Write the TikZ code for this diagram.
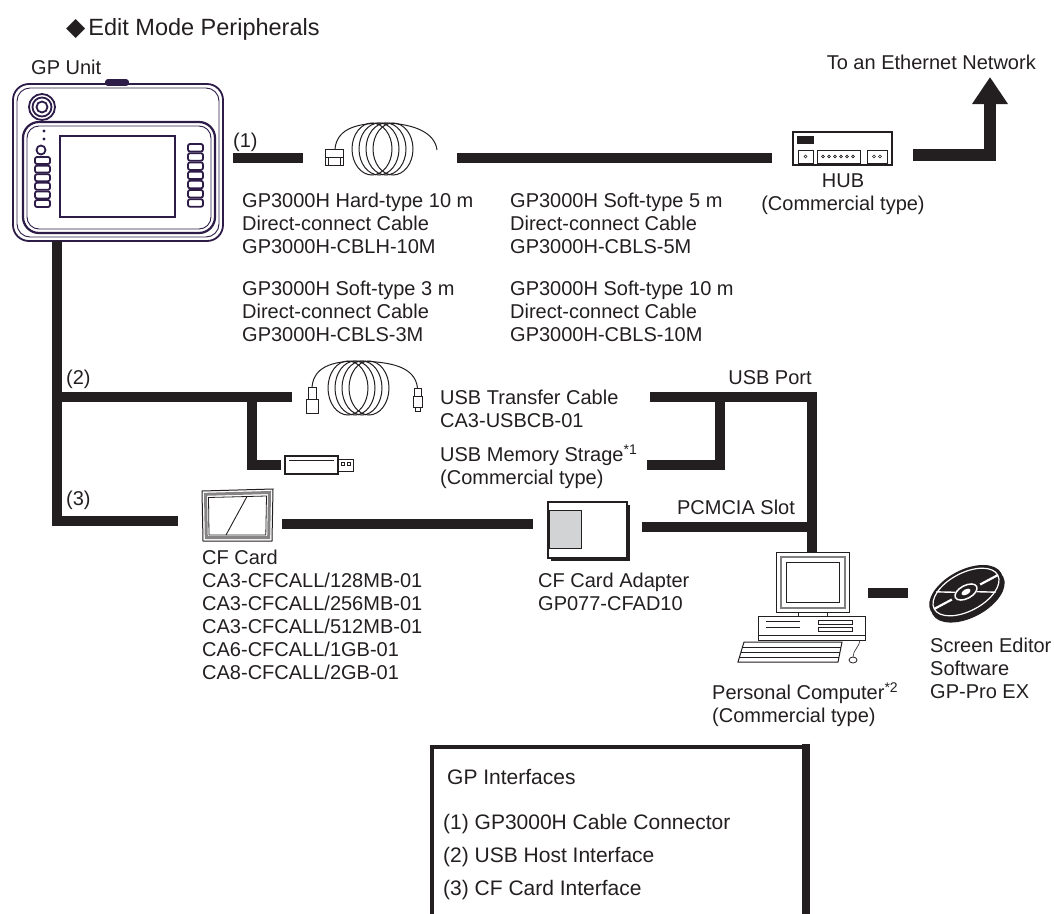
\documentclass[tikz,border=0pt]{standalone}
\usepackage{fontspec}
\setmainfont{Liberation Sans}
\newfontfamily\djv{DejaVu Sans}
\usetikzlibrary{arrows.meta}
\definecolor{ink}{RGB}{35,31,32}
\definecolor{unitc}{RGB}{45,28,72}
\definecolor{cfgray}{RGB}{209,211,212}
\begin{document}
\begin{tikzpicture}[x=1pt,y=-1pt,
  wire/.style={ink, line width=10.5pt, line join=miter},
  lbl/.style={inner sep=0pt, font=\fontsize{20}{23}\selectfont, text=ink},
  blk/.style={lbl, align=left, anchor=north west},
  thinl/.style={ink, line width=1pt},
  boxt/.style={inner sep=0pt, font=\fontsize{21}{25}\selectfont, text=ink, anchor=base west},
]
\useasboundingbox (0,0) rectangle (1054,913);

% ---------- titles
\node[lbl, anchor=base west, font=\fontsize{23.5}{27}\selectfont] (title) at (66,35) {{\djv\fontsize{25}{27}\selectfont ◆}\hspace{3pt}Edit Mode Peripherals};
\node[lbl, anchor=base west] (gplbl) at (31,74) {GP Unit};
\node[lbl, anchor=base east] (ethlbl) at (1036,69) {To an Ethernet Network};

% ---------- GP unit
\begin{scope}[unitc, line width=1.8pt]
  \draw[rounded corners=16pt] (13,84) rectangle (223,241);
  \draw[rounded corners=13pt, line width=0.9pt] (17,88) rectangle (219,237);
  \draw[fill=unitc, rounded corners=2pt] (106,80) rectangle (128,85);
  \draw (42,107) circle (13pt);
  \draw (42,107) circle (9.5pt);
  \draw (42,107) circle (5.5pt);
  \draw[rounded corners=16pt, line width=2.2pt] (23,122) rectangle (215,233);
  \draw[rounded corners=12pt, line width=0.9pt] (27,126) rectangle (211,229);
  \draw[line width=1.8pt] (60,136) rectangle (175,217);
  \fill (44,131) circle (1.6pt);
  \fill (44,139) circle (1.6pt);
  \draw (41,150) circle (4.5pt);
  \foreach \i in {0,...,5}
    \draw[rounded corners=2pt] (35,{157+\i*8.6}) rectangle (50,{164+\i*8.6});
  \foreach \i in {0,...,6}
    \draw[rounded corners=2pt] (188,{144+\i*9.2}) rectangle (203,{151.5+\i*9.2});
\end{scope}
\coordinate (ubot) at (57,241);

% ---------- row (1)
\node[lbl, anchor=base west] (l1) at (233,147) {(1)};
\coordinate (w1a) at (233,158);
\coordinate (w1b) at (303,158);
\draw[wire] (w1a) -- (w1b);
% coiled cable with connector
\draw[thinl] (325,149) rectangle (343,165);
\draw[thinl] (325,157) -- (343,157);
\draw[thinl] (328,157) -- (328,165) (340,157) -- (340,165);
\foreach \cx in {372,379,386,393} \draw[thinl] (\cx,149) ellipse (20pt and 26pt);
\draw[thinl] (335,149) .. controls (337,127) and (360,123) .. (386,123)
                       .. controls (415,124) and (435,133) .. (437,150);
\coordinate (w1c) at (457,158);
\coordinate (w1d) at (772,158);
\draw[wire] (w1c) -- (w1d);
% HUB
\node[draw=ink, line width=1.2pt, minimum width=99pt, minimum height=33pt, inner sep=0pt] (hub) at (842.5,148.5) {};
\fill[ink] (797,136) rectangle (814,144);
\draw[ink, line width=0.9pt] (798,150) rectangle (813,163) (817,150) rectangle (860,163) (867,150) rectangle (887,163);
\draw[ink, line width=0.6pt] (805.5,156.5) circle (1.5pt);
\foreach \cx in {823,829,835,841,847,853} \draw[ink, line width=0.6pt] (\cx,156.5) circle (1.4pt);
\foreach \cx in {874,880} \draw[ink, line width=0.6pt] (\cx,156.5) circle (1.5pt);
\node[lbl, anchor=base] (hublbl) at (843,187) {HUB};
\node[lbl, anchor=base] (hublbl2) at (843,210) {(Commercial type)};
\coordinate (w1e) at (913,155);
\coordinate (ethtip) at (990,77);
\draw[wire, line width=12pt, -{Triangle[width=34pt,length=27pt]}] (w1e) -| (ethtip);

% cable texts
\node[blk] (t1) at (242,192.4) {GP3000H Hard-type 10 m\\Direct-connect Cable\\GP3000H-CBLH-10M};
\node[blk] (t2) at (242,280.4) {GP3000H Soft-type 3 m\\Direct-connect Cable\\GP3000H-CBLS-3M};
\node[blk] (t3) at (510,192.4) {GP3000H Soft-type 5 m\\Direct-connect Cable\\GP3000H-CBLS-5M};
\node[blk] (t4) at (510,280.4) {GP3000H Soft-type 10 m\\Direct-connect Cable\\GP3000H-CBLS-10M};

% ---------- row (2)
\node[lbl, anchor=base west] (l2) at (66,384) {(2)};
\coordinate (j2) at (57,397);
\coordinate (w2a) at (292,397);
\draw[wire] (j2) -- (w2a);
\coordinate (j2b) at (252,397);
\coordinate (w2m) at (281,465);
\draw[wire] (j2b) |- (w2m);
% USB cable
\draw[thinl] (308,387) rectangle (316,399);
\draw[thinl] (306,399) rectangle (318,413);
\draw[thinl] (414,388) rectangle (421,396);
\draw[thinl] (413,396) rectangle (422,407);
\draw[thinl] (415,407) rectangle (420,411);
\foreach \cx in {348,355,362,369} \draw[thinl] (\cx,388) ellipse (20pt and 27pt);
\draw[thinl] (312,387) .. controls (314,364) and (338,361) .. (360,361)
                       .. controls (390,362) and (415,366) .. (417.5,388);
\node[blk] (usbc) at (440,389.4) {USB Transfer Cable\\CA3-USBCB-01};
% USB memory
\draw[ink, line width=1.3pt] (285,456) rectangle (338,474);
\draw[ink, line width=0.7pt] (289,460) -- (334,460);
\draw[ink, line width=1pt] (338,459) rectangle (353,471);
\draw[ink, line width=0.7pt] (341,462) rectangle (344.5,465) (347,462) rectangle (350.5,465);
\node[blk] (usbm) at (440,444.4) {USB Memory Strage\textsuperscript{*1}\\(Commercial type)};
\coordinate (w2r) at (650,397);
\coordinate (pctop) at (812,552);
\draw[wire] (w2r) -| (pctop);
\coordinate (w2s) at (647,465);
\coordinate (j2r) at (720,397);
\draw[wire] (w2s) -| (j2r);
\node[lbl, anchor=base] (usbp) at (770,384) {USB Port};

% ---------- row (3)
\node[lbl, anchor=base west] (l3) at (66,505) {(3)};
\coordinate (w3a) at (178,521);
\draw[wire] (ubot) |- (w3a);
% CF card
\draw[ink, line width=1pt] (202,491) -- (273,489) -- (272,541) -- (203,541) -- cycle;
\draw[ink!55, line width=3pt] (205.5,494.3) -- (269.5,492.5) -- (268.7,537.5) -- (206.3,537.5) -- cycle;
\draw[ink, line width=0.8pt] (208.5,497.5) -- (266.5,496) -- (265.8,535) -- (209,535) -- cycle;
\draw[ink, line width=0.9pt] (247,496.5) -- (226,535);
\node[blk] (cftxt) at (202,549.4) {CF Card\\CA3-CFCALL/128MB-01\\CA3-CFCALL/256MB-01\\CA3-CFCALL/512MB-01\\CA6-CFCALL/1GB-01\\CA8-CFCALL/2GB-01};
\coordinate (w3b) at (282,524);
\coordinate (w3c) at (533,524);
\draw[wire] (w3b) -- (w3c);
% CF adapter
\fill[ink] (551,505) rectangle (630,561);
\node[draw=ink, fill=white, line width=1.2pt, minimum width=79pt, minimum height=56pt, inner sep=0pt] (adp) at (587.5,530) {};
\draw[ink, line width=0.8pt, fill=cfgray] (549,510) rectangle (581,548);
\node[blk] (adptxt) at (538,572.4) {CF Card Adapter\\GP077-CFAD10};
\coordinate (w3d) at (642,527);
\coordinate (j3r) at (812,527);
\draw[wire] (w3d) -- (j3r);
\node[lbl, anchor=base] (pcm) at (736,514) {PCMCIA Slot};

% ---------- personal computer
\node[draw=ink, line width=1pt, minimum width=73pt, minimum height=60pt, inner sep=0pt] (mon) at (812.5,582) {};
\draw[gray, line width=2pt] (780.5,556.5) rectangle (844.5,607.5);
\draw[ink, line width=0.9pt] (786,562) rectangle (839,602);
\draw[ink, line width=1pt] (798,612) rectangle (827,616);
\draw[ink, line width=1pt] (758,616) rectangle (865,640);
\draw[ink, line width=0.8pt] (758,635) -- (865,635);
\draw[ink, line width=0.8pt] (818,620) rectangle (852,624) (818,627) rectangle (852,631);
\draw[ink, line width=0.8pt] (766,621) -- (800,621) (766,627) -- (800,627);
\draw[ink, line width=1pt] (744,642) -- (842,642) -- (838,662) -- (738,662) -- cycle;
\foreach \yy in {647,652,657} \draw[ink, line width=0.6pt] ({744-(\yy-642)*0.3},\yy) -- ({842-(\yy-642)*0.2},\yy);
\draw[ink, line width=0.8pt] (853,660) ellipse (4pt and 3pt);
\draw[ink, line width=0.6pt] (853,657) .. controls (853,650) and (860,646) .. (860,640);
\node[blk] (pctxt) at (712,682.4) {Personal Computer\textsuperscript{*2}\\(Commercial type)};

% ---------- CD
\coordinate (w4a) at (868,593);
\coordinate (w4b) at (908,593);
\draw[wire] (w4a) -- (w4b);
\begin{scope}[rotate around={28:(966,592)}]
  \fill[ink] (966,596) ellipse (40pt and 22pt);
  \fill[ink] (966,592) ellipse (40pt and 22pt);
  \draw[white, line width=1.2pt] (966,592) ellipse (36pt and 19pt);
  \draw[white, line width=1.5pt] (966,592) ellipse (12pt and 6.5pt);
  \fill[white] (966,592) ellipse (5pt and 2.7pt);
  \draw[white, line width=2.2pt] (950,592) -- (930,592) (982,592) -- (1002,592);
  \draw[white, line width=1.4pt] (956,587) -- (940,578) (976,597) -- (992,606);
\end{scope}
\node[blk] (cdtxt) at (930,637.4) {Screen Editor\\Software\\GP-Pro EX};

% ---------- legend box
\draw[ink, line width=3.5pt] (432,915) -- (432,747) -- (806,747);
\draw[ink, line width=8pt] (806,743.5) -- (806,915);
\node[boxt] (bx0) at (447,784) {GP Interfaces};
\node[boxt] (bx1) at (443,829) {(1) GP3000H Cable Connector};
\node[boxt] (bx2) at (443,862) {(2) USB Host Interface};
\node[boxt] (bx3) at (443,895) {(3) CF Card Interface};
\end{tikzpicture}
\end{document}
